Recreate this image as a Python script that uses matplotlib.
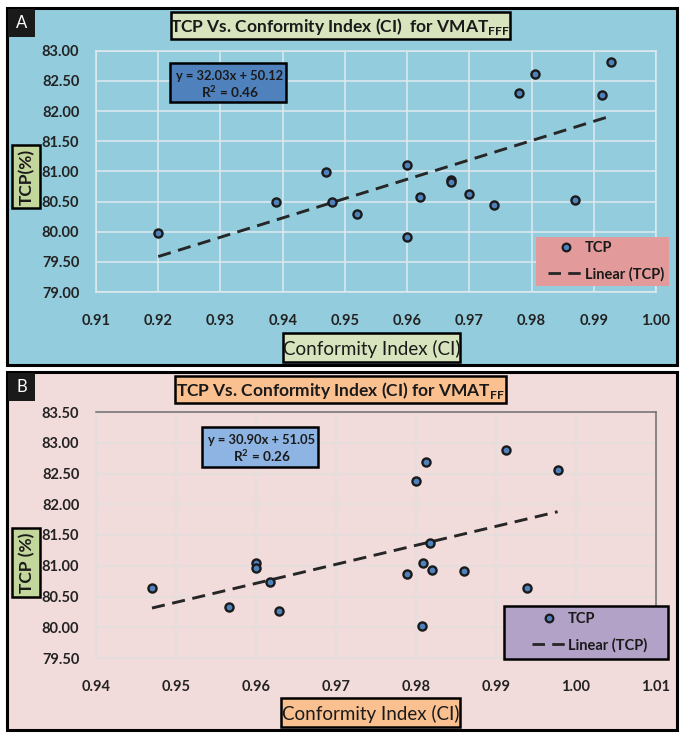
import matplotlib.pyplot as plt
from matplotlib.patches import Rectangle
from matplotlib.lines import Line2D

plt.rcParams['font.family'] = ['Lato', 'DejaVu Sans']
plt.rcParams['mathtext.fontset'] = 'custom'
plt.rcParams['mathtext.rm'] = 'Lato:bold'
plt.rcParams['mathtext.bf'] = 'Lato:bold'

# Panel A : VMAT FFF
ci_fff = [0.920, 0.939, 0.947, 0.948, 0.952, 0.960, 0.960, 0.962, 0.967, 0.967,
          0.970, 0.974, 0.978, 0.9805, 0.987, 0.9914, 0.9928]
tcp_fff = [79.97, 80.49, 80.99, 80.50, 80.30, 81.10, 79.92, 80.57, 80.85, 80.83,
           80.62, 80.44, 82.30, 82.62, 80.52, 82.27, 82.82]
fit_fff = (32.03, 50.12)
r2_fff = 0.46

# Panel B : VMAT FF
ci_ff = [0.947, 0.9566, 0.960, 0.960, 0.9618, 0.9629, 0.9789, 0.980, 0.9813, 0.9818,
         0.9809, 0.982, 0.9808, 0.986, 0.9913, 0.9939, 0.9977]
tcp_ff = [80.64, 80.33, 81.05, 80.97, 80.73, 80.27, 80.87, 82.37, 82.69, 81.37,
          81.05, 80.93, 80.02, 80.91, 82.89, 80.64, 82.56]
fit_ff = (30.90, 51.05)
r2_ff = 0.26

W, H = 686, 741
fig = plt.figure(figsize=(W / 100, H / 100), dpi=100)


def box(x0, y0, x1, y1, fc, ec='black', lw=1.8, z=1):
    # rectangle in pixel coords (top-left origin)
    r = Rectangle((x0 / W, 1 - y1 / H), (x1 - x0) / W, (y1 - y0) / H,
                  transform=fig.transFigure, facecolor=fc, edgecolor=ec,
                  linewidth=lw, zorder=z)
    fig.add_artist(r)


def ftext(x, y, s, **kw):
    return fig.text(x / W, 1 - y / H, s, ha='center', va='center', **kw)


def panel(top, bottom, bg, letter, ax_box, xs, ys, fit, r2, xlim, ylim, yticks,
          title, tbox, tfc, xbox, xfc, ybox, ylab, eqbox, eqfc, legbox, legfc,
          legec, gridc, spine_top):
    box(7, top, 677, bottom, bg, lw=2.2, z=0)
    box(8, top + 1, 35, top + 29, '#1a1a1a', ec='none', z=1)
    ftext(21.5, top + 15, letter, color='white', fontsize=12)

    x0, y0, x1, y1 = ax_box
    ax = fig.add_axes([x0 / W, 1 - y1 / H, (x1 - x0) / W, (y1 - y0) / H])
    ax.set_facecolor('none')
    ax.set_xlim(*xlim)
    ax.set_ylim(*ylim)
    n = int(round((xlim[1] - xlim[0]) / 0.01))
    ax.set_xticks([round(xlim[0] + 0.01 * i, 2) for i in range(n + 1)])
    ax.set_yticks(yticks)
    ax.xaxis.set_major_formatter(plt.FormatStrFormatter('%.2f'))
    ax.yaxis.set_major_formatter(plt.FormatStrFormatter('%.2f'))
    ax.tick_params(length=0, labelsize=10.5, colors='#222222', pad=12)
    ax.tick_params(axis='x', pad=16)
    for lab in ax.get_xticklabels() + ax.get_yticklabels():
        lab.set_fontweight('bold')
    ax.grid(True, color=gridc, lw=1.1)
    ax.set_axisbelow(True)
    for s in ax.spines.values():
        s.set_color(gridc)
        s.set_linewidth(1.1)
    if spine_top:
        ax.spines['top'].set_color('#6e6e6e')
        ax.spines['right'].set_color('#6e6e6e')

    xf = [min(xs), max(xs)]
    yf = [fit[0] * v + fit[1] for v in xf]
    ax.plot(xf, yf, color='#262626', lw=2.1, dashes=(4.5, 2.6), zorder=2)
    ax.scatter(xs, ys, s=34, facecolor='#4f81bd', edgecolor='#1a1a1a',
               linewidths=1.7, zorder=3)

    # title
    box(*tbox, tfc, z=2)
    ftext((tbox[0] + tbox[2]) / 2, (tbox[1] + tbox[3]) / 2 + 1, title,
          fontsize=12.5, fontweight='bold', color='#1a1a1a', zorder=3)
    # x label
    box(*xbox, xfc, z=2)
    ftext((xbox[0] + xbox[2]) / 2, (xbox[1] + xbox[3]) / 2 + 1,
          'Conformity Index (CI)', fontsize=13.5, color='#1a1a1a', zorder=3)
    # y label
    box(*ybox, '#c3d69b', z=2)
    ftext((ybox[0] + ybox[2]) / 2 + 1, (ybox[1] + ybox[3]) / 2, ylab,
          fontsize=12.5, fontweight='bold', color='#1a1a1a', rotation=90, zorder=3)
    # equation
    box(*eqbox, eqfc, z=2)
    ftext((eqbox[0] + eqbox[2]) / 2 + 2, eqbox[1] + 13,
          'y = %.2fx + %.2f' % fit, fontsize=9.3, fontweight='bold',
          color='#1a1a1a', zorder=3)
    ftext((eqbox[0] + eqbox[2]) / 2 + 2, eqbox[1] + 29,
          r'R$^{\mathbf{2}}$ = %.2f' % r2, fontsize=9.8, fontweight='bold',
          color='#1a1a1a', zorder=3)
    # legend
    box(*legbox, legfc, ec=legec, z=2)
    lx0, ly0, lx1, ly1 = legbox
    mk = Line2D([], [], ls='none', marker='o', ms=5.5, mfc='#4f81bd',
                mec='#1a1a1a', mew=1.6, label='TCP')
    ln = Line2D([], [], color='#262626', lw=2, dashes=(4.5, 2.6),
                label='Linear (TCP)')
    leg = fig.legend(handles=[mk, ln], loc='center',
                     bbox_to_anchor=((lx0 + lx1) / 2 / W + 0.005, 1 - (ly0 + ly1) / 2 / H),
                     frameon=False, prop={'size': 10.5, 'weight': 'bold'},
                     handlelength=2.4, handletextpad=0.1, labelspacing=0.8)
    leg.set_zorder(4)
    for t in leg.get_texts():
        t.set_color('#1a1a1a')
    return ax


panel(8, 365, '#93cddd', 'A', (96, 50.7, 656, 292), ci_fff, tcp_fff, fit_fff, r2_fff,
      (0.91, 1.00), (79.0, 83.0), [79.0 + 0.5 * i for i in range(9)],
      r'TCP Vs. Conformity Index (CI)  for VMAT$_{\mathbf{FFF}}$',
      (171, 12, 510, 39), '#d7e4bd', (283, 333, 460, 362), '#d7e4bd',
      (12, 145, 40, 208), 'TCP(%)', (170, 63, 286, 102), '#4f81bd',
      (536, 237, 669, 286), '#e39a9a', 'none', '#dfe9ee', False)

panel(372, 730, '#f2dcdb', 'B', (96, 412, 656, 658), ci_ff, tcp_ff, fit_ff, r2_ff,
      (0.94, 1.01), (79.5, 83.5), [79.5 + 0.5 * i for i in range(9)],
      r'TCP Vs. Conformity Index (CI) for VMAT$_{\mathbf{FF}}$',
      (175, 376, 506, 403), '#fac090', (281, 698, 460, 727), '#fac090',
      (12, 528, 40, 597), 'TCP (%)', (202, 427, 318, 467), '#8db4e2',
      (504, 606, 668, 659), '#b3a2c7', 'black', '#e3dede', True)

fig.savefig('out.png', dpi=100)
